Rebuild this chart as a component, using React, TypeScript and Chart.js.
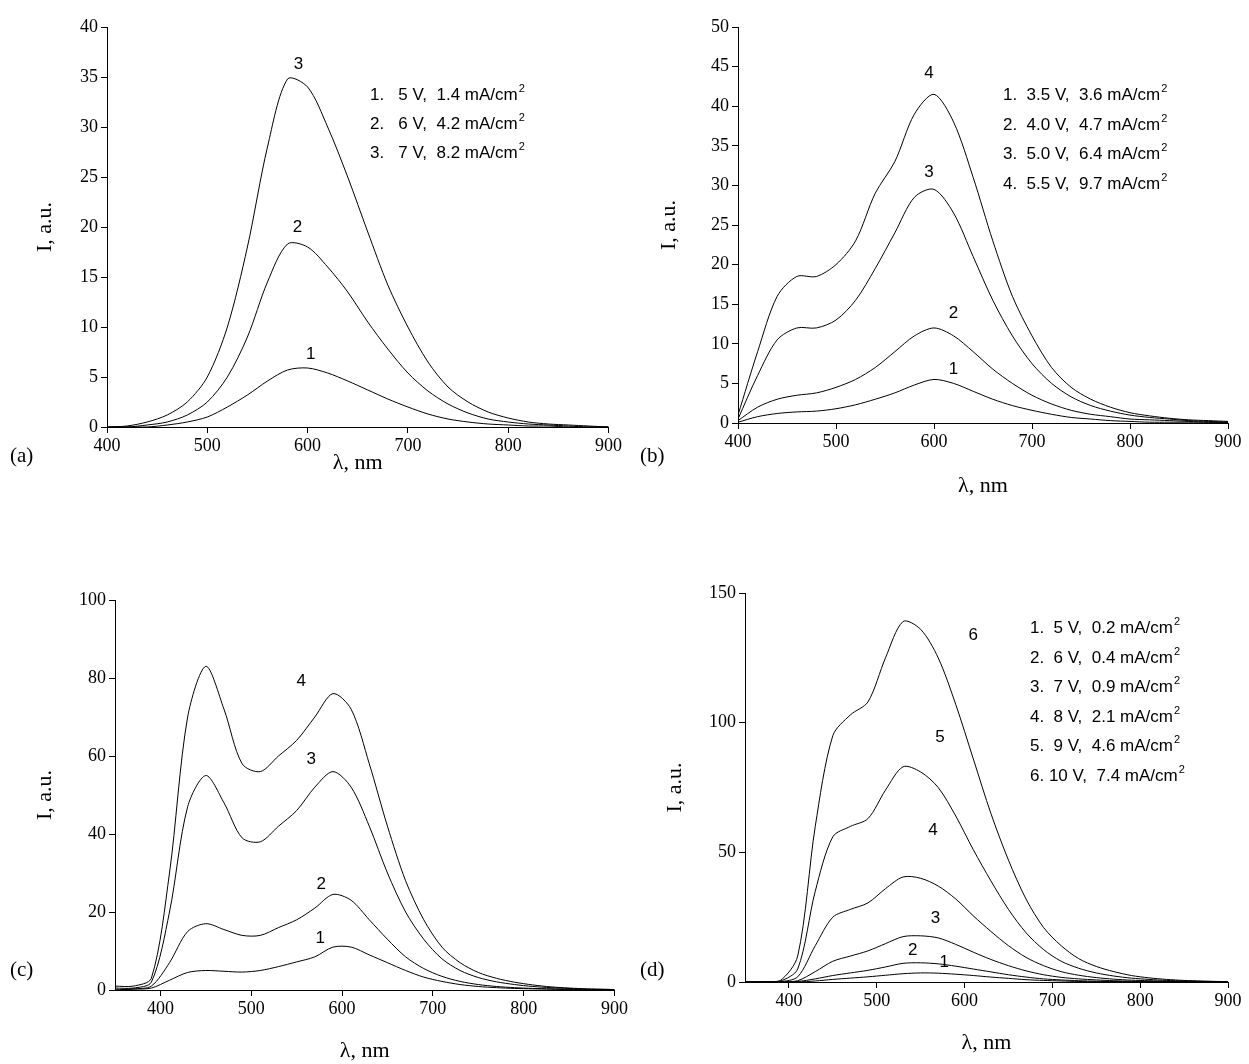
import React, { useEffect, useRef } from "react";
import { Chart, registerables } from "chart.js";
Chart.register(...registerables);

const wlAB = [400,420,440,460,480,500,520,540,560,580,600,620,640,660,680,700,720,740,760,780,800,820,840,860,880,900];
const wlCD = [350,370,390,410,430,450,470,490,510,530,550,570,590,610,630,650,670,690,710,730,750,770,790,810,830,850,870,890,900];

const a1 = [0,0,0,0.2,0.5,1,2,3.2,4.6,5.7,5.9,5.4,4.6,3.7,2.8,2,1.3,0.8,0.5,0.3,0.2,0.1,0.1,0,0,0];
const a2 = [0,0,0.2,0.5,1.2,2.5,5,9,14.5,18.3,18,16,13.5,10.5,7.8,5.4,3.6,2.3,1.4,0.8,0.5,0.3,0.2,0.1,0,0];
const a3 = [0,0.1,0.5,1.2,2.5,5,10,18,28,34.8,34,30,25,19.5,14.2,10,6.5,4,2.5,1.5,0.9,0.5,0.3,0.2,0.1,0];

const b1 = [0.1,0.8,1.2,1.4,1.5,1.8,2.3,3,3.8,4.8,5.5,5,4,3,2.2,1.6,1.1,0.7,0.5,0.3,0.2,0.1,0.1,0.1,0.1,0.1];
const b2 = [0.3,2,3,3.5,3.8,4.5,5.5,7,9,11,12,11,9,6.8,5,3.5,2.4,1.6,1.1,0.8,0.5,0.4,0.3,0.2,0.1,0.1];
const b3 = [0.5,6,10.5,12,12,13,15.5,19.5,24,28.5,29.5,26.5,21,15.5,11,7.5,5,3.3,2.2,1.5,1,0.7,0.5,0.3,0.2,0.1];
const b4 = [1,9,16,18.5,18.5,20,23,29,33,39,41.5,38,31,23,16,11,7,4.5,3,2,1.3,0.9,0.6,0.4,0.3,0.2];

const c1 = [0,0.2,0.5,2.5,4.5,5,4.8,4.6,5,6,7.2,8.5,11,11,9,7,5,3.3,2.2,1.4,0.9,0.6,0.4,0.3,0.2,0.1,0,0,0];
const c2 = [0,0.3,1,7,15,17,15.5,14,14,16,18,21,24.5,23,18,13,8.5,5.5,3.5,2.2,1.4,0.9,0.6,0.4,0.3,0.2,0.1,0,0];
const c3 = [0.5,0.5,2,20,47,55,48,39,38,42,46,52,56,52,42,30,20,13,8,5,3.2,2.1,1.4,0.9,0.6,0.4,0.2,0.1,0.1];
const c4 = [1,1,3,30,70,83,72,58,56,60,64,70,76,72,58,42,28,18,11,7,4.5,3,2,1.3,0.8,0.5,0.3,0.2,0.1];

const d1 = [0,0,0,0,0.4,1,1.5,2,2.6,3.2,3.5,3.4,3,2.5,1.9,1.4,0.9,0.6,0.4,0.2,0.1,0.1,0,0,0,0,0,0,0];
const d2 = [0,0,0,0.2,1.2,2.5,3.5,4.5,5.8,7.2,7.4,7,6.1,5,3.9,2.8,1.9,1.2,0.8,0.5,0.3,0.2,0.1,0.1,0,0,0,0,0];
const d3 = [0,0,0,0.5,4,8,10,12,14.8,17.5,17.8,17,14.5,11.5,8.7,6.3,4.3,2.8,1.8,1.2,0.8,0.5,0.3,0.2,0.1,0.1,0,0,0];
const d4 = [0,0,0.1,2,14,25,28,30.5,36,40.5,40,37,32,25.5,19.5,14,9.5,6.3,4,2.6,1.7,1.1,0.7,0.5,0.3,0.2,0.1,0,0];
const d5 = [0,0,0.3,5,35,56,60,63,74,83,81,75,64,51,39,28,19,12.5,8,5.3,3.5,2.3,1.5,1,0.6,0.4,0.2,0.1,0.1];
const d6 = [0,0,0.5,10,60,95,103,108,125,139,136,125,107,86,65,47,32,21,14,9,6,4,2.5,1.6,1,0.6,0.4,0.2,0.2];

const xTicks = [400,500,600,700,800,900];

type Panel = {
  id: string; left: number; top: number; w: number; h: number;
  padTop: number; padRight: number; padLeft: number; padBottom: number; yW: number; xH: number;
  xMin: number; yMax: number; yStep: number; wl: number[]; series: number[][];
  labels: [string, number, number][]; legend: string[]; legX: number; legY: number; legDy: number;
  tagX: number; tagY: number;
};

const panels: Panel[] = [
  { id: "(a)", left: 0, top: 0, w: 624, h: 490, padTop: 27, padRight: 12, padLeft: 28, padBottom: 10, yW: 79, xH: 53,
    xMin: 400, yMax: 40, yStep: 5, wl: wlAB, series: [a1, a2, a3],
    labels: [["3",591,35.8],["2",590,19.5],["1",603,6.8]],
    legend: ["1.   5 V,  1.4 mA/cm", "2.   6 V,  4.2 mA/cm", "3.   7 V,  8.2 mA/cm"],
    legX: 370, legY: 100, legDy: 29, tagX: 10, tagY: 462 },
  { id: "(b)", left: 624, top: 0, w: 625, h: 503, padTop: 27, padRight: 21, padLeft: 28, padBottom: 0, yW: 86, xH: 80,
    xMin: 400, yMax: 50, yStep: 5, wl: wlAB, series: [b1, b2, b3, b4],
    labels: [["4",595,43.5],["3",595,31],["2",620,13.2],["1",620,6.2]],
    legend: ["1.  3.5 V,  3.6 mA/cm", "2.  4.0 V,  4.7 mA/cm", "3.  5.0 V,  6.4 mA/cm", "4.  5.5 V,  9.7 mA/cm"],
    legX: 379, legY: 100, legDy: 29.5, tagX: 16, tagY: 462 },
  { id: "(c)", left: 0, top: 530, w: 630, h: 538, padTop: 70, padRight: 4, padLeft: 28, padBottom: 0, yW: 87, xH: 78,
    xMin: 350, yMax: 100, yStep: 20, wl: wlCD, series: [c1, c2, c3, c4],
    labels: [["4",555,78],["3",566,58],["2",577,26],["1",576,12]],
    legend: ["1.  3.5 V,  1.4 mA/cm", "2.  4.0 V,  2.8 mA/cm", "3.  5.0 V,  5.8 mA/cm", "4.  5.5 V,  7.8 mA/cm"],
    legX: 633, legY: 133, legDy: 29.5, tagX: 10, tagY: 446 },
  { id: "(d)", left: 630, top: 530, w: 619, h: 534, padTop: 63, padRight: 21, padLeft: 28, padBottom: 4, yW: 87, xH: 78,
    xMin: 350, yMax: 150, yStep: 50, wl: wlCD, series: [d1, d2, d3, d4, d5, d6],
    labels: [["6",610,132],["5",572,92.5],["4",564,56.6],["3",567,22.7],["2",541,10.3],["1",577,5.7]],
    legend: ["1.  5 V,  0.2 mA/cm", "2.  6 V,  0.4 mA/cm", "3.  7 V,  0.9 mA/cm", "4.  8 V,  2.1 mA/cm", "5.  9 V,  4.6 mA/cm", "6. 10 V,  7.4 mA/cm"],
    legX: 400, legY: 103, legDy: 29.6, tagX: 10, tagY: 446 },
];

function PanelChart({ p }: { p: Panel }) {
  const ref = useRef<HTMLCanvasElement>(null);
  useEffect(() => {
    const textPlugin = {
      id: "txt",
      afterDraw(chart: any) {
        const ctx = chart.ctx;
        const xs = chart.scales.x, ys = chart.scales.y;
        ctx.save();
        ctx.fillStyle = "#000";
        ctx.font = "17px 'Liberation Sans'";
        ctx.textAlign = "center";
        ctx.textBaseline = "alphabetic";
        p.labels.forEach(([t, x, y]) => ctx.fillText(t, xs.getPixelForValue(x), ys.getPixelForValue(y)));
        ctx.textAlign = "left";
        p.legend.forEach((t, i) => {
          const y = p.legY + i * p.legDy;
          ctx.font = "17px 'Liberation Sans'";
          ctx.fillText(t, p.legX, y);
          const w = ctx.measureText(t).width;
          ctx.font = "11px 'Liberation Sans'";
          ctx.fillText("2", p.legX + w + 1, y - 8);
        });
        ctx.font = "21px 'Liberation Serif'";
        ctx.fillText(p.id, p.tagX, p.tagY);
        ctx.restore();
      },
    };
    const chart = new Chart(ref.current!, {
      type: "line",
      data: {
        datasets: p.series.map((s) => ({
          data: s.map((v, i) => ({ x: p.wl[i], y: v })),
          borderColor: "#000", borderWidth: 1, pointRadius: 0, tension: 0.3, fill: false,
        })),
      },
      options: {
        animation: false, responsive: false, maintainAspectRatio: false,
        layout: { padding: { top: p.padTop, right: p.padRight, left: p.padLeft, bottom: p.padBottom } },
        plugins: { legend: { display: false }, tooltip: { enabled: false } },
        scales: {
          x: {
            type: "linear", min: p.xMin, max: 900,
            afterBuildTicks: (s: any) => { s.ticks = xTicks.map((v) => ({ value: v })); },
            afterFit: (s: any) => { s.height = p.xH; },
            grid: { drawOnChartArea: false, tickLength: 6, color: "#000" },
            border: { color: "#000", width: 1 },
            ticks: { color: "#000", font: { family: "Liberation Serif", size: 18 }, padding: 2, maxRotation: 0 },
            title: { display: true, text: "λ, nm", color: "#000", font: { family: "Liberation Serif", size: 22 }, padding: { top: 8 } },
          },
          y: {
            min: 0, max: p.yMax,
            afterFit: (s: any) => { s.width = p.yW; },
            grid: { drawOnChartArea: false, tickLength: 6, color: "#000" },
            border: { color: "#000", width: 1 },
            ticks: { stepSize: p.yStep, color: "#000", font: { family: "Liberation Serif", size: 18 }, padding: 3 },
            title: { display: true, text: "I, a.u.", color: "#000", font: { family: "Liberation Serif", size: 22 } },
          },
        },
      },
      plugins: [textPlugin],
    });
    return () => chart.destroy();
  }, [p]);
  return (
    <canvas ref={ref} width={p.w} height={p.h}
      style={{ position: "absolute", left: p.left, top: p.top, width: p.w, height: p.h }} />
  );
}

export default function App() {
  return (
    <div style={{ position: "absolute", left: 0, top: 0, width: 1249, height: 1064, background: "#fff", overflow: "hidden" }}>
      {panels.map((p) => <PanelChart key={p.id} p={p} />)}
    </div>
  );
}
